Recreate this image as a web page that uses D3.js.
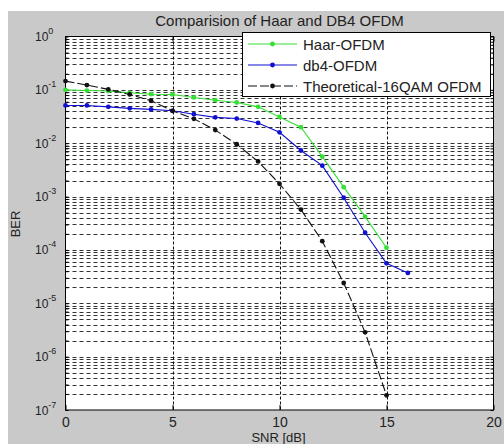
<!DOCTYPE html>
<html lang="en">
<head>
<meta charset="UTF-8">
<title>Comparision of Haar and DB4 OFDM</title>
<script src="https://d3js.org/d3.v7.min.js"></script>
<style>
  body { margin: 0; padding: 0; background: #fff; }
  svg { display: block; font-family: Arial, "Liberation Sans", Helvetica, sans-serif; }
</style>
</head>
<body>
<svg id="chart" width="504" height="444"></svg>
<script>
// values
const snr = [0, 1, 2, 3, 4, 5, 6, 7, 8, 9, 10, 11, 12, 13, 14, 15, 16];
const haarBer = [0.1, 0.097, 0.095, 0.088, 0.083, 0.082, 0.072, 0.064, 0.058, 0.048, 0.031, 0.020, 0.0056, 0.0015, 0.00042, 0.00011];
const db4Ber = [0.051, 0.051, 0.048, 0.045, 0.043, 0.0405, 0.035, 0.0305, 0.029, 0.024, 0.016, 0.0073, 0.0038, 0.00095, 0.00021, 0.000056, 0.000037];
const theoryBer = [0.146, 0.123, 0.102, 0.082, 0.0625, 0.0405, 0.0287, 0.0176, 0.0096, 0.00455, 0.00173, 0.00057, 0.000146, 0.000024, 0.00000286, 0.000000188];
const xTicks = [0, 5, 10, 15, 20];
const yExponents = [0, -1, -2, -3, -4, -5, -6, -7];

const series = [
  { name: 'Haar-OFDM', values: haarBer, color: '#33e033', dash: null },
  { name: 'db4-OFDM', values: db4Ber, color: '#1010d0', dash: null },
  { name: 'Theoretical-16QAM OFDM', values: theoryBer, color: '#111', dash: '9,3' }
];

const svg = d3.select('#chart');
const pLeft = 65.5, pRight = 493.5, pTop = 36.5, pBottom = 410;

const x = d3.scaleLinear().domain([0, 20]).range([pLeft, pRight]);
const y = d3.scaleLog().domain([1e-7, 1]).range([pBottom, pTop]);

// figure background
svg.append('rect').attr('x', 8).attr('y', 11).attr('width', 496).attr('height', 433).attr('fill', '#c9c9c9');
svg.append('rect').attr('x', pLeft).attr('y', pTop).attr('width', pRight - pLeft).attr('height', pBottom - pTop).attr('fill', '#fff');

// grid
const grid = svg.append('g');
grid.selectAll('line.h')
  .data(y.ticks().filter(v => v > 1.0001e-7 && v < 0.9999))
  .enter().append('line')
  .attr('x1', pLeft).attr('x2', pRight)
  .attr('y1', d => Math.round(y(d)) + 0.5).attr('y2', d => Math.round(y(d)) + 0.5)
  .attr('stroke', '#333').attr('stroke-width', 1).attr('stroke-dasharray', '4,3');
grid.selectAll('line.v')
  .data([5, 10, 15])
  .enter().append('line')
  .attr('x1', d => Math.round(x(d)) + 0.5).attr('x2', d => Math.round(x(d)) + 0.5)
  .attr('y1', pTop).attr('y2', pBottom)
  .attr('stroke', '#111').attr('stroke-width', 1).attr('stroke-dasharray', '3,2');

// axes (ticks point inward, like matlab)
const xAxis = svg.append('g').attr('transform', `translate(0,${pBottom})`)
  .call(d3.axisBottom(x).tickValues(xTicks).tickSize(-5).tickPadding(7));
xAxis.select('.domain').remove();
xAxis.selectAll('text').attr('font-size', 14).attr('fill', '#222').attr('font-family', 'Arial, "Liberation Sans", sans-serif');
svg.append('g').attr('transform', `translate(0,${pTop})`)
  .call(d3.axisTop(x).tickValues(xTicks).tickSize(-5).tickFormat(''))
  .select('.domain').remove();

const yMinor = y.ticks();
const yl = svg.append('g').attr('transform', `translate(${pLeft},0)`)
  .call(d3.axisLeft(y).tickValues(yMinor).tickSize(-3).tickFormat(''));
yl.select('.domain').remove();
const yr = svg.append('g').attr('transform', `translate(${pRight},0)`)
  .call(d3.axisRight(y).tickValues(yMinor).tickSize(-3).tickFormat(''));
yr.select('.domain').remove();
svg.selectAll('.tick line').attr('stroke', '#000');

// y tick labels 10^n
const yLab = svg.append('g').attr('fill', '#222');
yExponents.forEach(e => {
  const t = yLab.append('text')
    .attr('x', 35).attr('y', y(Math.pow(10, e)) + 4.5)
    .attr('font-size', 12);
  t.append('tspan').text('10');
  t.append('tspan').attr('dy', -7).attr('font-size', 9).text(e);
});

// frame
svg.append('rect').attr('x', pLeft).attr('y', pTop).attr('width', pRight - pLeft).attr('height', pBottom - pTop)
  .attr('fill', 'none').attr('stroke', '#000').attr('stroke-width', 1);

// series
const line = d3.line().x((d, i) => x(snr[i])).y(d => y(d));
series.forEach(s => {
  svg.append('path').datum(s.values)
    .attr('d', line).attr('fill', 'none')
    .attr('stroke', s.color).attr('stroke-width', 1.1)
    .attr('stroke-dasharray', s.dash);
  svg.append('g').selectAll('circle').data(s.values).enter().append('circle')
    .attr('cx', (d, i) => x(snr[i])).attr('cy', d => y(d)).attr('r', 2.4)
    .attr('fill', s.color);
});

// title and axis labels
svg.append('text').attr('x', (pLeft + pRight) / 2).attr('y', 26).attr('text-anchor', 'middle')
  .attr('font-size', 15).attr('fill', '#222').text('Comparision of Haar and DB4 OFDM');
svg.append('text').attr('x', (pLeft + pRight) / 2 - 1).attr('y', 442).attr('text-anchor', 'middle')
  .attr('font-size', 13).attr('fill', '#222').text('SNR [dB]');
svg.append('text').attr('transform', `translate(20,224) rotate(-90)`).attr('text-anchor', 'middle')
  .attr('font-size', 13).attr('fill', '#222').text('BER');

// legend
const lg = svg.append('g');
lg.append('rect').attr('x', 242.5).attr('y', 32.5).attr('width', 248).attr('height', 64)
  .attr('fill', '#fff').attr('stroke', '#000').attr('stroke-width', 1);
series.forEach((s, i) => {
  const cy = 44 + i * 21;
  lg.append('line').attr('x1', 248).attr('x2', 297).attr('y1', cy).attr('y2', cy)
    .attr('stroke', s.color).attr('stroke-width', 1.1).attr('stroke-dasharray', s.dash);
  lg.append('circle').attr('cx', 272.5).attr('cy', cy).attr('r', 2.4).attr('fill', s.color);
  lg.append('text').attr('x', 303).attr('y', cy + 5.5).attr('font-size', 15).attr('fill', '#222').text(s.name);
});
</script>
</body>
</html>
